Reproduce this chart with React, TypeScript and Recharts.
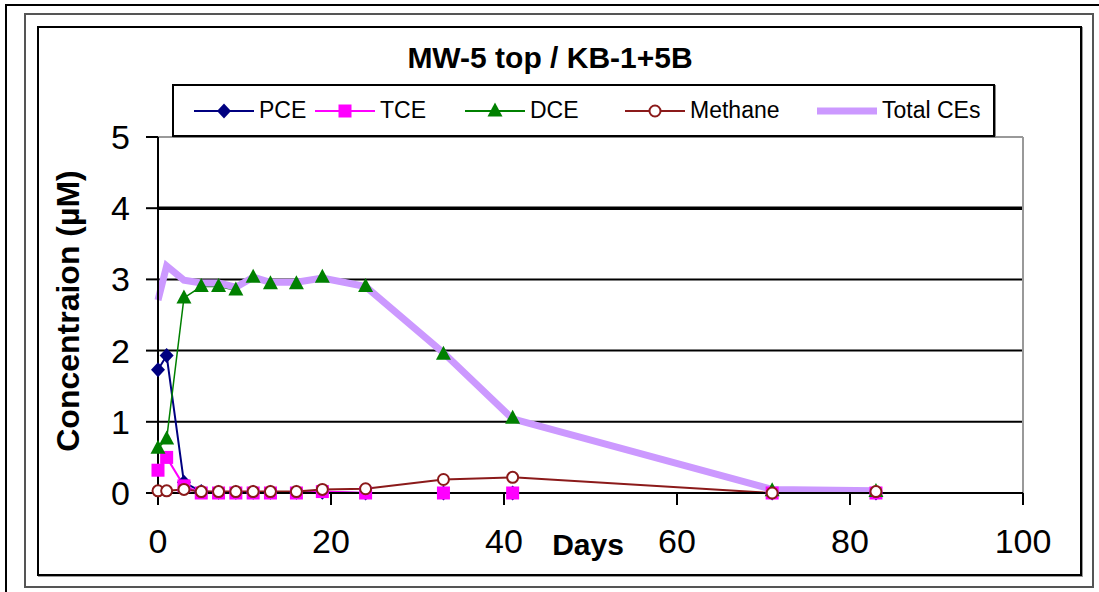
import React from "react";
import { LineChart, Line, XAxis, YAxis, ReferenceLine } from "recharts";

// sampling days and measured concentrations (µM)
const DAYS = [0, 1, 3, 5, 7, 9, 11, 13, 16, 19, 24, 33, 41, 71, 83];
const PCE = [1.73, 1.93, 0.15, 0.02, 0.01, 0.01, 0.01, 0.01, 0.01, 0.01, 0, 0, 0, 0, 0];
const TCE = [0.32, 0.5, 0.1, 0, 0, 0, 0, 0, 0, 0.02, 0, 0, 0, 0, 0];
const DCE = [0.63, 0.76, 2.74, 2.9, 2.9, 2.85, 3.03, 2.94, 2.94, 3.03, 2.9, 1.95, 1.05, 0.03, 0.02];
const METHANE = [0.03, 0.03, 0.05, 0.02, 0.02, 0.02, 0.02, 0.02, 0.02, 0.05, 0.06, 0.19, 0.22, 0, 0.02];
const TOTAL = [2.71, 3.19, 2.99, 2.95, 2.95, 2.89, 3.03, 2.96, 2.96, 3.02, 2.9, 1.97, 1.04, 0.05, 0.03];

const X_TICKS = [0, 20, 40, 60, 80, 100];
const Y_TICKS = [0, 1, 2, 3, 4, 5];
const GRID_Y = [1, 2, 3];

const FONT = '"Liberation Sans", Arial, sans-serif';

type Shape = "diamond" | "square" | "triangle" | "circle" | "none";

const SERIES: { key: string; name: string; color: string; width: number; shape: Shape }[] = [
  { key: "pce", name: "PCE", color: "#000080", width: 2, shape: "diamond" },
  { key: "tce", name: "TCE", color: "#FF00FF", width: 2, shape: "square" },
  { key: "dce", name: "DCE", color: "#008000", width: 1.5, shape: "triangle" },
  { key: "methane", name: "Methane", color: "#8B1A1A", width: 2, shape: "circle" },
  { key: "total", name: "Total CEs", color: "#CC99FF", width: 7, shape: "none" },
];

// legend icon left edges (layout only)
const LEGEND_LEFT = [20, 141, 291, 451, 643];

const data = DAYS.map((day, i) => ({
  day,
  pce: PCE[i],
  tce: TCE[i],
  dce: DCE[i],
  methane: METHANE[i],
  total: TOTAL[i],
}));

function Marker({ cx, cy, shape, color }: { cx: number; cy: number; shape: Shape; color: string }) {
  if (shape === "diamond")
    return <polygon points={`${cx},${cy - 7.5} ${cx + 7},${cy} ${cx},${cy + 7.5} ${cx - 7},${cy}`} fill={color} />;
  if (shape === "square") return <rect x={cx - 6.5} y={cy - 6.5} width={13} height={13} fill={color} />;
  if (shape === "triangle")
    return <polygon points={`${cx},${cy - 8.5} ${cx + 7.5},${cy + 5.5} ${cx - 7.5},${cy + 5.5}`} fill={color} />;
  if (shape === "circle") return <circle cx={cx} cy={cy} r={5.5} fill="#fff" stroke={color} strokeWidth={2} />;
  return null;
}

function LegendBox() {
  return (
    <div
      style={{
        position: "absolute",
        left: 172,
        top: 84,
        width: 823,
        height: 53,
        boxSizing: "border-box",
        border: "2px solid #000",
        boxShadow: "1px 1px 0 #888",
        background: "#fff",
        fontFamily: FONT,
        fontSize: 23,
        color: "#000",
      }}
    >
      {SERIES.map((s, i) => (
        <div
          key={s.key}
          style={{ position: "absolute", left: LEGEND_LEFT[i], top: 0, height: 49, display: "flex", alignItems: "center" }}
        >
          <svg width={60} height={20} style={{ display: "block" }}>
            <line x1={0} y1={10} x2={60} y2={10} stroke={s.color} strokeWidth={s.key === "total" ? 7 : 2} />
            <Marker cx={30} cy={10} shape={s.shape} color={s.color} />
          </svg>
          <span style={{ marginLeft: 5 }}>{s.name}</span>
        </div>
      ))}
    </div>
  );
}

export default function App() {
  return (
    <div style={{ position: "absolute", left: 0, top: 0, width: 1099, height: 592, background: "#fff", overflow: "hidden" }}>
      {/* outer frames */}
      <div style={{ position: "absolute", left: 5, top: 4, width: 1100, height: 600, borderTop: "2px solid #000", borderLeft: "2px solid #000" }} />
      <div style={{ position: "absolute", left: 24, top: 13, width: 1070, height: 575, boxSizing: "border-box", border: "2px solid #555" }} />
      <div style={{ position: "absolute", left: 37, top: 26, width: 1045, height: 550, boxSizing: "border-box", border: "2px solid #000", boxShadow: "1px 1px 0 #999" }} />

      <div style={{ position: "absolute", left: 0, top: 0 }}>
        <LineChart width={1099} height={592} data={data} margin={{ top: 137, right: 76, left: 58, bottom: 39 }}>
          <XAxis
            type="number"
            dataKey="day"
            domain={[0, 100]}
            ticks={X_TICKS}
            interval={0}
            height={60}
            tickSize={12}
            tickMargin={24}
            axisLine={{ stroke: "#000", strokeWidth: 2 }}
            tickLine={{ stroke: "#000", strokeWidth: 2 }}
            tick={{ fontSize: 34, fill: "#000", fontFamily: FONT }}
          />
          <YAxis
            type="number"
            domain={[0, 5]}
            ticks={Y_TICKS}
            interval={0}
            width={100}
            tickSize={12}
            tickMargin={16}
            axisLine={{ stroke: "#000", strokeWidth: 2 }}
            tickLine={{ stroke: "#000", strokeWidth: 2 }}
            tick={{ fontSize: 34, fill: "#000", fontFamily: FONT }}
          />
          {GRID_Y.map((y) => (
            <ReferenceLine key={y} y={y} stroke="#000" strokeWidth={2} />
          ))}
          <ReferenceLine y={4} stroke="#000" strokeWidth={3.5} />
          <ReferenceLine y={5} stroke="#999" strokeWidth={2} />
          <ReferenceLine x={100} stroke="#999" strokeWidth={2} />

          {/* lines first, like Excel */}
          {SERIES.map((s) => (
            <Line
              key={`l-${s.key}`}
              type="linear"
              dataKey={s.key}
              stroke={s.color}
              strokeWidth={s.width}
              dot={false}
              activeDot={false}
              isAnimationActive={false}
            />
          ))}
          {/* markers on top */}
          {SERIES.filter((s) => s.shape !== "none").map((s) => (
            <Line
              key={`m-${s.key}`}
              type="linear"
              dataKey={s.key}
              stroke="none"
              dot={(p: any) => (
                <Marker key={`${s.key}-${p.index}`} cx={p.cx} cy={p.cy} shape={s.shape} color={s.color} />
              )}
              activeDot={false}
              isAnimationActive={false}
            />
          ))}
        </LineChart>
      </div>

      <svg width={1099} height={592} style={{ position: "absolute", left: 0, top: 0, pointerEvents: "none" }}>
        <text x={550} y={68} textAnchor="middle" fontFamily={FONT} fontWeight="bold" fontSize={30} fill="#000">
          MW-5 top / KB-1+5B
        </text>
        <text
          x={0}
          y={0}
          transform="translate(79,311) rotate(-90)"
          textAnchor="middle"
          fontFamily={FONT}
          fontWeight="bold"
          fontSize={32}
          fill="#000"
        >
          Concentraion (µM)
        </text>
        <text x={588} y={555} textAnchor="middle" fontFamily={FONT} fontWeight="bold" fontSize={30} fill="#000">
          Days
        </text>
      </svg>

      <LegendBox />
    </div>
  );
}
